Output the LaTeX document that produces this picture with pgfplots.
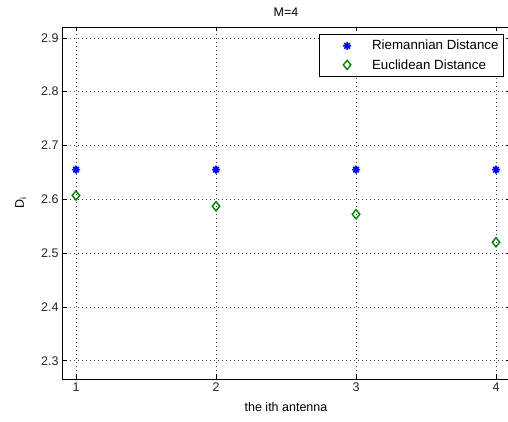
\documentclass[border=0pt]{standalone}
\usepackage{fontspec}
\setmainfont{Liberation Sans}
\usepackage{pgfplots}
\pgfplotsset{compat=1.18}
\pgfdeclareplotmark{mstar}{%
  \pgfpathmoveto{\pgfqpoint{-\pgfplotmarksize}{0pt}}%
  \pgfpathlineto{\pgfqpoint{\pgfplotmarksize}{0pt}}%
  \pgfpathmoveto{\pgfqpoint{0pt}{-\pgfplotmarksize}}%
  \pgfpathlineto{\pgfqpoint{0pt}{\pgfplotmarksize}}%
  \pgfpathmoveto{\pgfqpoint{-0.7\pgfplotmarksize}{-0.7\pgfplotmarksize}}%
  \pgfpathlineto{\pgfqpoint{0.7\pgfplotmarksize}{0.7\pgfplotmarksize}}%
  \pgfpathmoveto{\pgfqpoint{-0.7\pgfplotmarksize}{0.7\pgfplotmarksize}}%
  \pgfpathlineto{\pgfqpoint{0.7\pgfplotmarksize}{-0.7\pgfplotmarksize}}%
  \pgfusepathqstroke}
\pgfdeclareplotmark{mdiam}{%
  \pgfpathmoveto{\pgfqpoint{0pt}{\pgfplotmarksize}}%
  \pgfpathlineto{\pgfqpoint{0.82\pgfplotmarksize}{0pt}}%
  \pgfpathlineto{\pgfqpoint{0pt}{-\pgfplotmarksize}}%
  \pgfpathlineto{\pgfqpoint{-0.82\pgfplotmarksize}{0pt}}%
  \pgfpathclose
  \pgfusepathqstroke}
\definecolor{mblue}{RGB}{0,0,255}
\definecolor{mgreen}{RGB}{0,128,0}
\begin{document}
\begin{tikzpicture}
\begin{axis}[
  scale only axis,
  width=448pt, height=352pt,
  xmin=0.9, xmax=4.1,
  ymin=2.266, ymax=2.92,
  xtick={1,2,3,4},
  ytick={2.3,2.4,2.5,2.6,2.7,2.8,2.9},
  /pgf/number format/assume math mode=true,
  yticklabel style={/pgf/number format/fixed,/pgf/number format/precision=1,/pgf/number format/fixed zerofill},
  tick label style={font=\fontsize{12.5}{14}\selectfont, text=black!85},
  tick align=inside,
  major tick length=4.5pt,
  tick style={black, line width=0.5pt},
  xmajorgrids, ymajorgrids,
  major grid style={black!75, line width=0.5pt, dash pattern=on 1pt off 3pt},
  axis line style={black, line width=0.6pt},
  title={M=4},
  title style={font=\fontsize{12.5}{14}\selectfont, yshift=1pt},
  xlabel={the ith antenna},
  xlabel style={font=\fontsize{12.5}{14}\selectfont, yshift=-4pt},
  ylabel={D\textsubscript{i}},
  ylabel style={font=\fontsize{12.5}{14}\selectfont, at={(axis description cs:-0.092,0.5)}, anchor=center},
  legend style={at={(rel axis cs:0.986,0.98)}, anchor=north east, draw=black, fill=white,
    font=\fontsize{13.3}{15}\selectfont, cells={anchor=west}, row sep=4pt, inner xsep=3pt, inner ysep=4pt},
  legend image code/.code={\path[draw=none] (0pt,0pt) -- (48pt,0pt); \draw[#1] plot coordinates {(25pt,0pt)};},
]
\addplot[only marks, mark=mstar, mark size=4pt, color=mblue, line width=1.6pt] coordinates {
  (1,2.655) (2,2.655) (3,2.655) (4,2.655)
};
\addlegendentry{Riemannian Distance}
\addplot[only marks, mark=mdiam, mark size=4.6pt, color=mgreen, line width=1.4pt] coordinates {
  (1,2.607) (2,2.587) (3,2.572) (4,2.520)
};
\addlegendentry{Euclidean Distance}
\end{axis}
\pgfresetboundingbox
\useasboundingbox (-62pt,-43pt) rectangle (446pt,379pt);
\end{tikzpicture}
\end{document}
